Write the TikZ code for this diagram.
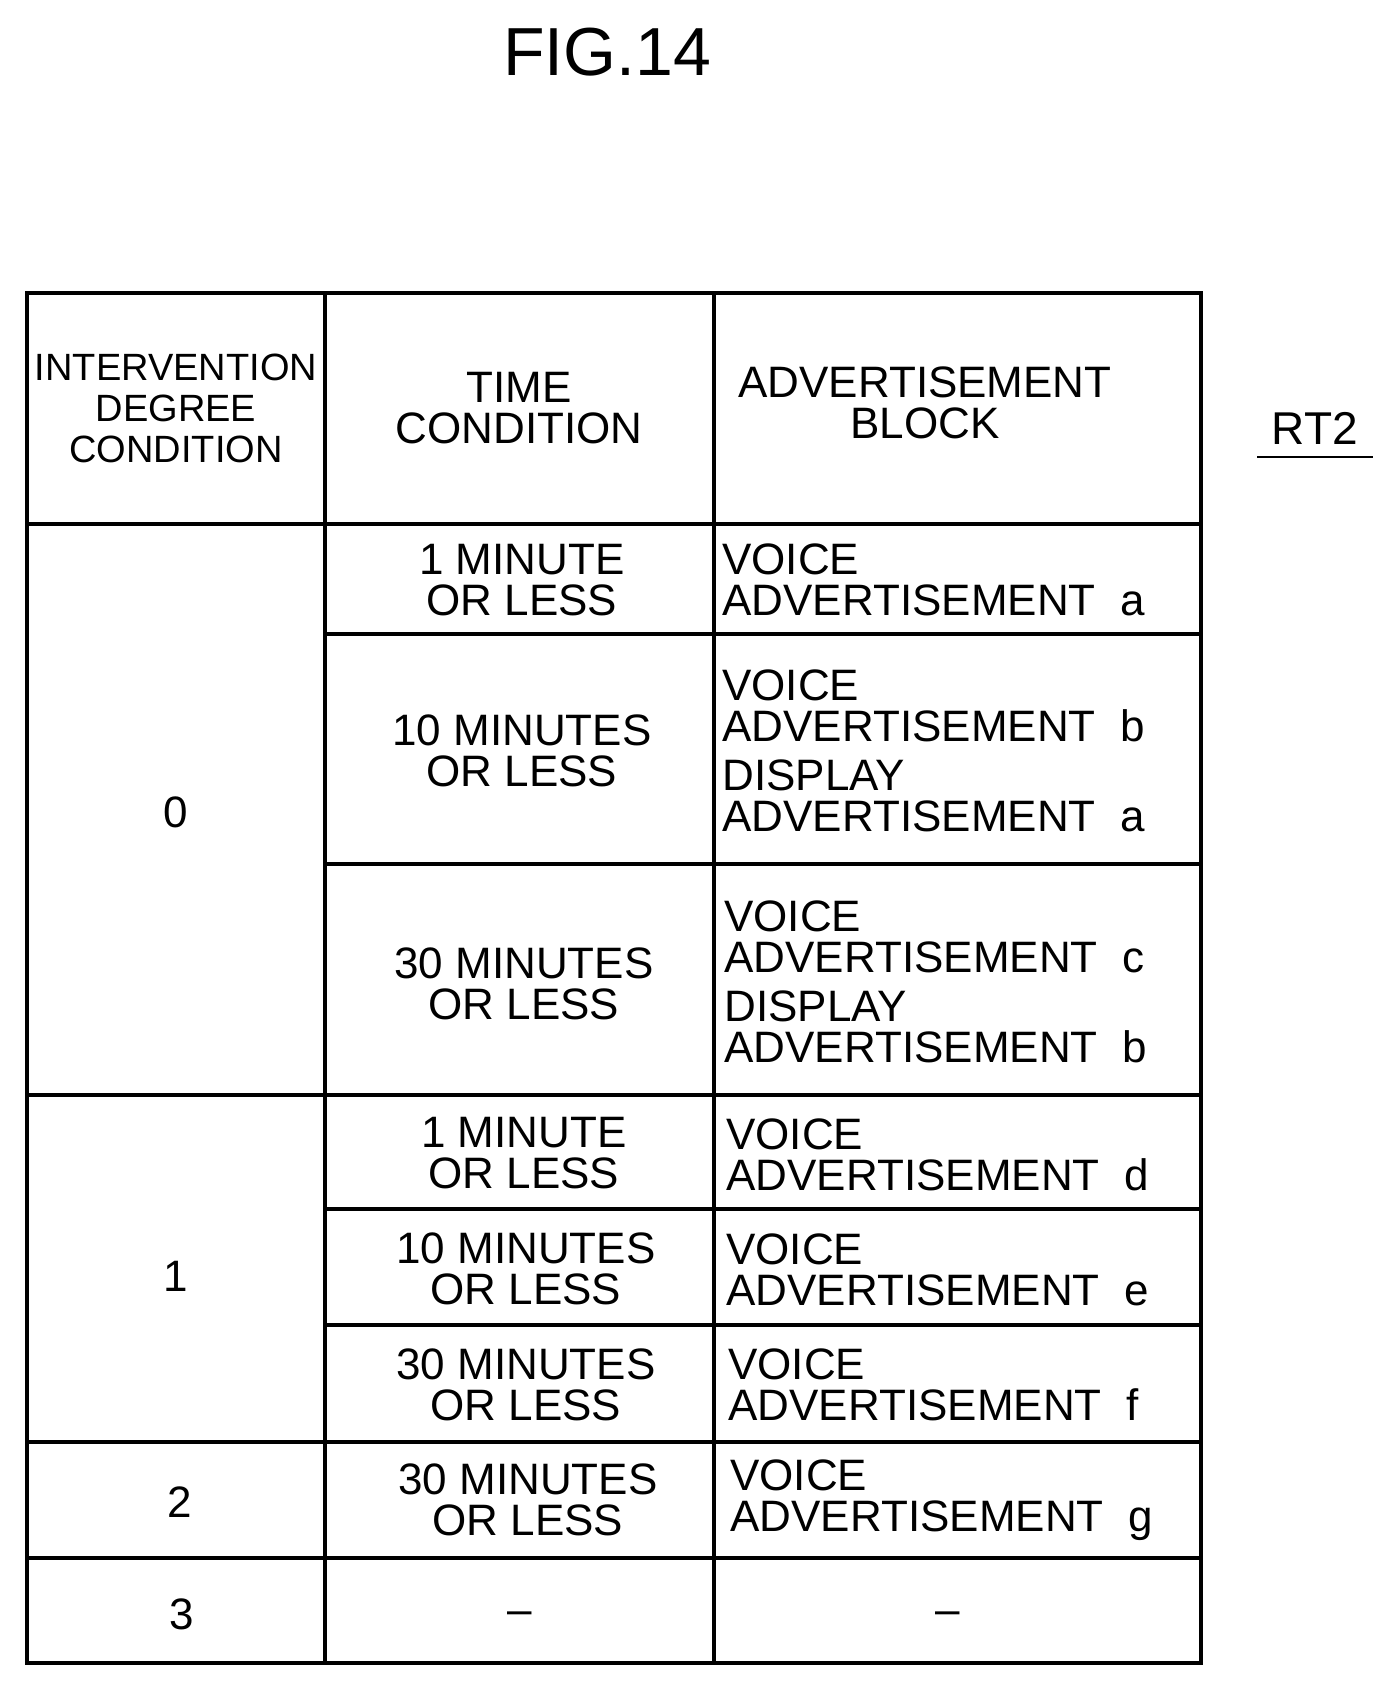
\documentclass[tikz,border=0pt]{standalone}
\usepackage{fontspec}
\setmainfont{Liberation Sans}
\begin{document}
\begin{tikzpicture}[x=0.5pt,y=-0.5pt,
  cell/.style={align=center,font=\fontsize{22}{20.5}\selectfont,inner sep=0pt},
  adcell/.style={align=left,anchor=west,font=\fontsize{22}{20.5}\selectfont,inner sep=0pt},
  grid/.style={line width=2pt}]
\useasboundingbox (0,0) rectangle (1388,1693);
\node[font=\fontsize{34}{34}\selectfont] (title) at (607,52) {FIG.14};
\node[font=\fontsize{23}{23}\selectfont] (rt) at (1315,428) {RT2};
\coordinate (u1) at (1257,457); \coordinate (u2) at (1373,457);
\draw[line width=1.2pt] (u1) -- (u2);
% grid
\draw[grid] (27,293) rectangle (1201,1663);
\foreach \x in {325,714} \draw[grid] (\x,293) -- (\x,1663);
\draw[grid] (27,524) -- (1201,524);
\foreach \y in {1095,1442,1558} \draw[grid] (27,\y) -- (1201,\y);
\foreach \y in {634,864,1209,1325} \draw[grid] (325,\y) -- (1201,\y);
% header
\node[cell,font=\fontsize{19}{20.5}\selectfont] (h1) at (176,408) {INTERVENTION\\DEGREE\\CONDITION};
\node[cell] (h2) at (519,408) {TIME\\CONDITION};
\node[cell] (h3) at (925,403) {ADVERTISEMENT\\BLOCK};
% left column
\node[cell] (d0) at (176,812) {0};
\node[cell] (d1) at (176,1276) {1};
\node[cell] (d2) at (180,1502) {2};
\node[cell] (d3) at (182,1614) {3};
% time column
\node[cell] (t1) at (522,580) {1 MINUTE\\OR LESS};
\node[cell] (t2) at (522,751) {10 MINUTES\\OR LESS};
\node[cell] (t3) at (524,984) {30 MINUTES\\OR LESS};
\node[cell] (t4) at (524,1153) {1 MINUTE\\OR LESS};
\node[cell] (t5) at (526,1269) {10 MINUTES\\OR LESS};
\node[cell] (t6) at (526,1385) {30 MINUTES\\OR LESS};
\node[cell] (t7) at (528,1500) {30 MINUTES\\OR LESS};
\node[cell] (t8) at (520,1618) {--};
% ad column
\node[adcell] (a1) at (722,580) {VOICE\\ADVERTISEMENT\ \ a};
\node[adcell] (a2) at (722,751) {VOICE\\ADVERTISEMENT\ \ b\\[4pt]DISPLAY\\ADVERTISEMENT\ \ a};
\node[adcell] (a3) at (724,982) {VOICE\\ADVERTISEMENT\ \ c\\[4pt]DISPLAY\\ADVERTISEMENT\ \ b};
\node[adcell] (a4) at (726,1155) {VOICE\\ADVERTISEMENT\ \ d};
\node[adcell] (a5) at (726,1270) {VOICE\\ADVERTISEMENT\ \ e};
\node[adcell] (a6) at (728,1385) {VOICE\\ADVERTISEMENT\ \ f};
\node[adcell] (a7) at (730,1500) {VOICE\\ADVERTISEMENT\ \ g};
\node[cell] (a8) at (948,1618) {--};
\end{tikzpicture}
\end{document}
